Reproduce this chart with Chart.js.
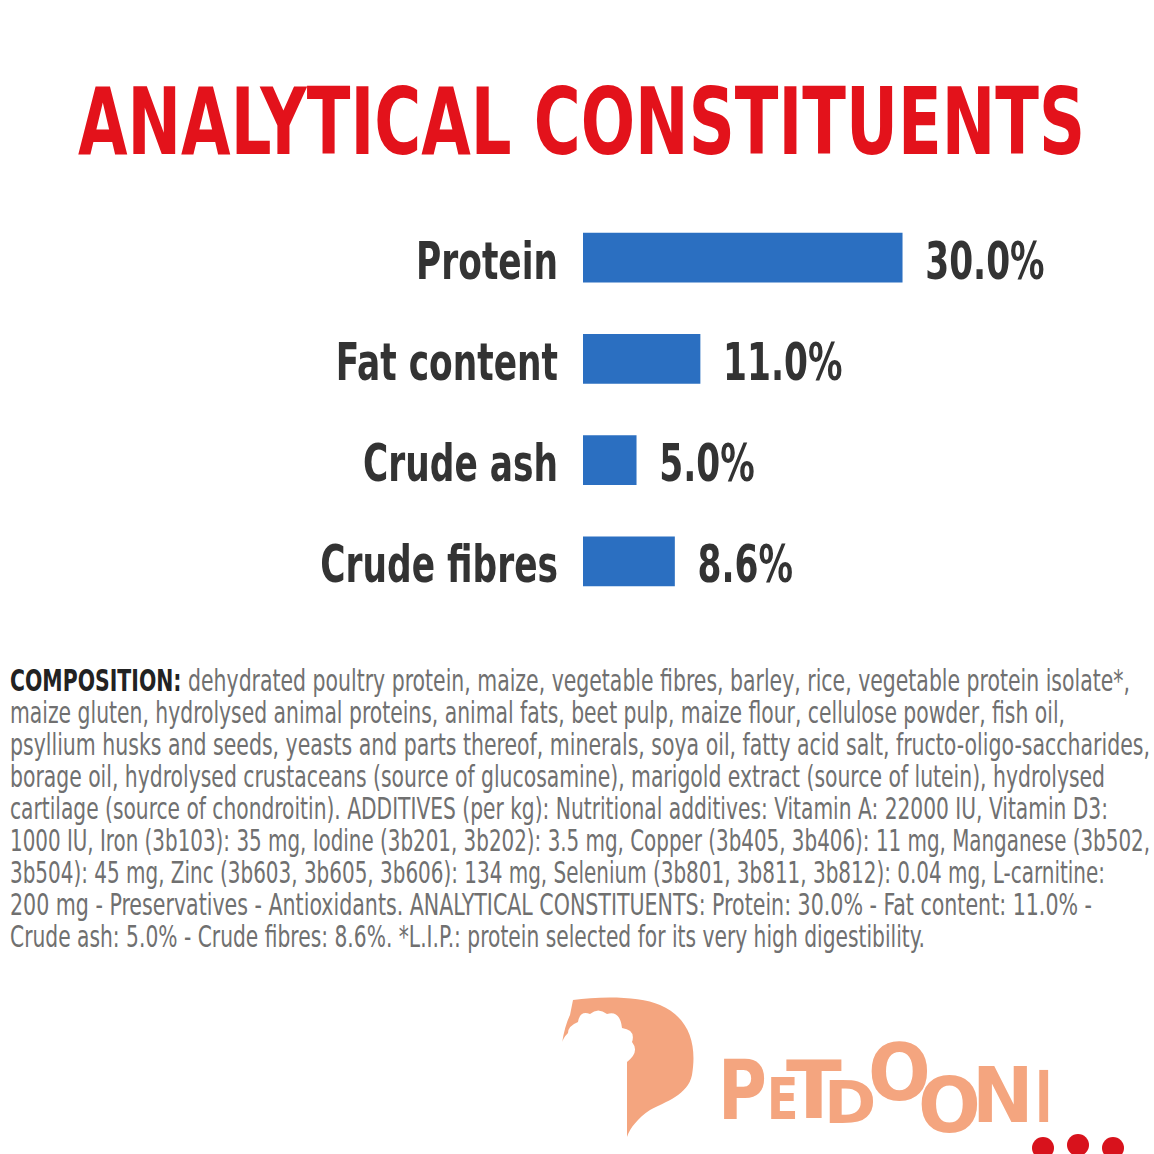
<!DOCTYPE html>
<html>
<head>
<meta charset="utf-8">
<script src="https://cdn.jsdelivr.net/npm/chart.js@4.4.1/dist/chart.umd.min.js"></script>
<style>
  html, body { margin: 0; padding: 0; background: #fff; }
  body {
    width: 1154px; height: 1154px; position: relative; overflow: hidden;
    font-family: "DejaVu Sans Condensed", "Liberation Sans", sans-serif;
  }
  #title {
    position: absolute; left: 78px; top: 76px;
    font-size: 93px; line-height: 93px; font-weight: bold;
    color: #e3121b; white-space: nowrap; transform-origin: 0 0;
  }
  #wrap { position: absolute; left: 0; top: 200px; width: 1154px; height: 430px; }
  .line {
    position: absolute; left: 10px; white-space: nowrap;
    font-size: 31px; line-height: 31px; color: #707070; transform-origin: 0 0;
  }
  .line b { color: #222; }
  .logo {
    position: absolute; color: #f4a57f; white-space: nowrap;
    font-family: "DejaVu Sans", sans-serif; font-weight: bold; transform-origin: 0 0;
  }
  .dot { position: absolute; width: 22px; height: 22px; border-radius: 50%; background: #d8121c; }
</style>
</head>
<body>
<div id="title">ANALYTICAL CONSTITUENTS</div>
<div id="wrap"><canvas id="chart" width="1154" height="430"></canvas></div>
<div id="composition"></div>

<svg style="position:absolute;left:0;top:0" width="1154" height="1154">
  <path fill="#f4a57f" d="M 573 1000 C 600 996, 640 996, 660 1005 C 690 1018, 697 1045, 692 1075 C 688 1095, 665 1102, 650 1110 C 638 1118, 630 1128, 627 1137 L 627 1062 Q 640 1052, 632 1042 Q 636 1030, 622 1028 Q 620 1010, 607 1014 Q 598 1007, 590 1014 Q 580 1010, 578 1022 Q 568 1026, 568 1033 Q 563 1038, 562 1043 Q 565 1025, 570 1015 Z"/>
</svg>
<div id="logo"></div>
<div class="dot" style="left:1032px;top:1137px"></div>
<div class="dot" style="left:1067px;top:1134px"></div>
<div class="dot" style="left:1102px;top:1137px"></div>

<script>
const categories = ["Protein", "Fat content", "Crude ash", "Crude fibres"];
const values = [30.0, 11.0, 5.0, 8.6];
const valueLabels = values.map((v) => v.toFixed(1) + "%");

const compositionLines = [
	["<b>COMPOSITION:</b> dehydrated poultry protein, maize, vegetable fibres, barley, rice, vegetable protein isolate*,", 1130],
	["maize gluten, hydrolysed animal proteins, animal fats, beet pulp, maize flour, cellulose powder, fish oil,", 1065],
	["psyllium husks and seeds, yeasts and parts thereof, minerals, soya oil, fatty acid salt, fructo-oligo-saccharides,", 1150],
	["borage oil, hydrolysed crustaceans (source of glucosamine), marigold extract (source of lutein), hydrolysed", 1105],
	["cartilage (source of chondroitin). ADDITIVES (per kg): Nutritional additives: Vitamin A: 22000 IU, Vitamin D3:", 1108],
	["1000 IU, Iron (3b103): 35 mg, Iodine (3b201, 3b202): 3.5 mg, Copper (3b405, 3b406): 11 mg, Manganese (3b502,", 1150],
	["3b504): 45 mg, Zinc (3b603, 3b605, 3b606): 134 mg, Selenium (3b801, 3b811, 3b812): 0.04 mg, L-carnitine:", 1105],
	["200 mg - Preservatives - Antioxidants. ANALYTICAL CONSTITUENTS: Protein: 30.0% - Fat content: 11.0% -", 1092],
	["Crude ash: 5.0% - Crude fibres: 8.6%. *L.I.P.: protein selected for its very high digestibility.", 925],
];

// logo letters: char, left, right, cap top, baseline
const logoLetters = [
	["P", 723, 765, 1060, 1120],
	["E", 770, 797, 1078, 1120],
	["T", 792, 840, 1060, 1118],
	["D", 828, 873, 1080, 1123],
	["O", 873, 927, 1043, 1100],
	["O", 923, 977, 1077, 1133],
	["N", 977, 1030, 1067, 1123],
	["I", 1038, 1053, 1070, 1122],
];

const fontFamily = '"DejaVu Sans Condensed", "Liberation Sans", sans-serif';
const labelSqueeze = 0.75;

// squeeze a text element to a given width
function fitWidth(el, width) {
	let w = el.getBoundingClientRect().width;
	el.style.transform = `scaleX(${width / w})`;
}

fitWidth(document.getElementById("title"), 1085 - 78);

let comp = document.getElementById("composition");
compositionLines.forEach(([html, right], i) => {
	let d = document.createElement("div");
	d.className = "line";
	d.style.top = 665 + i * 32 + "px";
	d.innerHTML = html;
	comp.appendChild(d);
	fitWidth(d, right - 10);
});

let logo = document.getElementById("logo");
for (let [ch, l, r, capTop, base] of logoLetters) {
	let size = (base - capTop) / 0.729;
	let s = document.createElement("span");
	s.className = "logo";
	s.textContent = ch;
	s.style.fontSize = size + "px";
	s.style.lineHeight = size + "px";
	s.style.left = l + "px";
	s.style.top = base - 0.846 * size + "px";
	logo.appendChild(s);
	// glyph ink is a bit narrower than the span box
	let w = s.getBoundingClientRect().width * 0.86;
	s.style.transform = `scaleX(${(r - l) / w})`;
	s.style.left = l - 0.07 * size * ((r - l) / w) + "px";
}

function drawSqueezed(c, text, x, y, align) {
	c.save();
	c.translate(x, y);
	c.scale(labelSqueeze, 1);
	c.textAlign = align;
	c.fillText(text, 0, 0);
	c.restore();
}

const labelPlugin = {
	id: "labels",
	afterDatasetsDraw(chart) {
		let c = chart.ctx;
		let yScale = chart.scales.y;
		let meta = chart.getDatasetMeta(0);
		c.save();
		c.font = `bold 51px ${fontFamily}`;
		c.fillStyle = "#333";
		c.textBaseline = "alphabetic";
		chart.data.labels.forEach((lab, i) => {
			let y = yScale.getPixelForValue(i) + 21;
			drawSqueezed(c, lab, yScale.right - 25, y, "right");
		});
		meta.data.forEach((bar, i) => {
			drawSqueezed(c, valueLabels[i], bar.x + 23, bar.y + 21, "left");
		});
		c.restore();
	},
};

const chart = new Chart(document.getElementById("chart"), {
	type: "bar",
	data: {
		labels: categories,
		datasets: [
			{
				data: values,
				backgroundColor: "#2b6fc1",
				barThickness: 49,
			},
		],
	},
	options: {
		indexAxis: "y",
		responsive: false,
		animation: false,
		layout: { padding: { left: 0, right: 39, top: 7, bottom: 18 } },
		plugins: { legend: { display: false }, tooltip: { enabled: false } },
		scales: {
			x: { display: false, min: 0, max: 50 },
			y: {
				grid: { display: false },
				border: { display: false },
				ticks: { display: false },
				afterFit(scale) {
					scale.width = 583;
				},
			},
		},
	},
	plugins: [labelPlugin],
});
</script>
</body>
</html>
